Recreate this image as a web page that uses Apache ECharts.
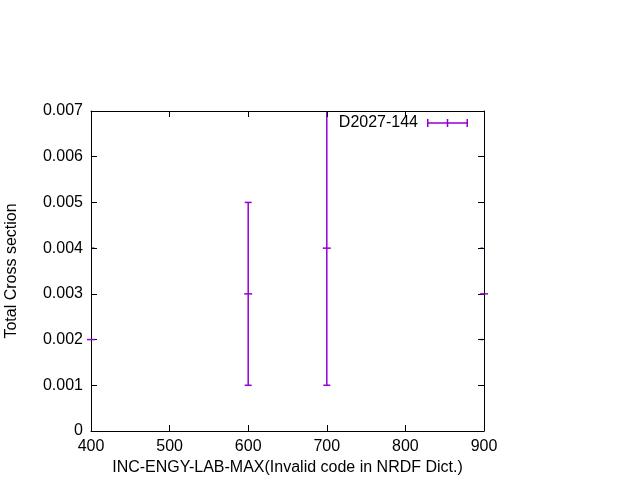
<!DOCTYPE html>
<html>
<head>
<meta charset="utf-8">
<script src="https://cdn.jsdelivr.net/npm/echarts@6/dist/echarts.min.js"></script>
<style>html,body{margin:0;padding:0;background:#fff}#c{width:640px;height:480px}</style>
</head>
<body>
<div id="c"></div>
<script>
// ---- data ----
const seriesName = 'D2027-144';
const xValues = [400, 600, 700, 900];
const yValues = [0.002, 0.003, 0.004, 0.003];
const yLow    = [0.000, 0.001, 0.001, 0.002];
const yHigh   = [0.004, 0.005, 0.0075, 0.004];
const xTicks = [400, 500, 600, 700, 800, 900];
const yTicks = [0, 0.001, 0.002, 0.003, 0.004, 0.005, 0.006, 0.007];
const xTitle = 'INC-ENGY-LAB-MAX(Invalid code in NRDF Dict.)';
const yTitle = 'Total Cross section';

const PURPLE = '#9400d3';
const FONT = 'Liberation Sans';
const data = xValues.map((x, i) => [x, yValues[i], yLow[i], yHigh[i]]);

const chart = echarts.init(document.getElementById('c'), null, {renderer: 'canvas'});

function baseAxis(type, ticks, extra) {
  return Object.assign({
    type: 'value',
    min: ticks[0],
    max: ticks[ticks.length - 1],
    interval: ticks[1] - ticks[0],
    z: 3,
    axisLine: {show: true, onZero: false, lineStyle: {color: '#000', width: 1}},
    axisTick: {show: true, inside: true, length: 6, lineStyle: {color: '#000', width: 1}},
    splitLine: {show: false},
    axisLabel: {show: true, color: '#000', fontFamily: FONT, fontSize: 16, margin: 8,
      formatter: v => String(Number(v.toFixed(3)))}
  }, extra || {});
}

const legendIcon = 'path://M0,3.3H41V4.7H0Z M0,0H1.5V8H0Z M19.75,0H21.25V8H19.75Z M39.5,0H41V8H39.5Z';

chart.setOption({
  animation: false,
  backgroundColor: '#fff',
  grid: {left: 91, right: 156, top: 111, bottom: 49, containLabel: false, outerBoundsMode: 'none'},
  xAxis: [
    baseAxis('x', xTicks, {position: 'bottom', name: xTitle, nameLocation: 'middle', nameGap: 25,
      nameTextStyle: {color: '#000', fontFamily: FONT, fontSize: 16}}),
    baseAxis('x', xTicks, {position: 'top', axisLabel: {show: false}})
  ],
  yAxis: [
    baseAxis('y', yTicks, {position: 'left', name: yTitle, nameLocation: 'middle', nameGap: 71, nameRotate: 90,
      nameTextStyle: {color: '#000', fontFamily: FONT, fontSize: 16}}),
    baseAxis('y', yTicks, {position: 'right', axisLabel: {show: false}})
  ],
  legend: {
    data: [{name: seriesName, icon: legendIcon}],
    right: 172, top: 115, padding: 0,
    align: 'right',
    itemWidth: 41, itemHeight: 8,
    textStyle: {color: '#000', fontFamily: FONT, fontSize: 16, padding: [0, 4, 0, 0]}
  },
  series: [
    {
      name: seriesName,
      type: 'custom',
      clip: false,
      z: 2,
      itemStyle: {color: PURPLE},
      data: data,
      encode: {x: 0, y: [1, 2, 3]},
      renderItem: function (params, api) {
        const x = api.value(0), lo = api.value(2), hi = api.value(3);
        const pLo = api.coord([x, lo]);
        const pHi = api.coord([x, hi]);
        const w = 3.5;
        const st = {stroke: PURPLE, lineWidth: 1.5};
        const cs = params.coordSys;
        return {
          type: 'group',
          clipPath: {type: 'rect', shape: {x: cs.x + 1, y: cs.y + 1, width: cs.width - 2, height: cs.height - 2}},
          children: [
            {type: 'line', shape: {x1: pLo[0], y1: pLo[1], x2: pHi[0], y2: pHi[1]}, style: st},
            {type: 'line', shape: {x1: pLo[0] - w, y1: pLo[1], x2: pLo[0] + w, y2: pLo[1]}, style: st},
            {type: 'line', shape: {x1: pHi[0] - w, y1: pHi[1], x2: pHi[0] + w, y2: pHi[1]}, style: st}
          ]
        };
      }
    },
    {
      name: seriesName + ' points',
      type: 'custom',
      clip: false,
      z: 5,
      itemStyle: {color: PURPLE},
      data: data,
      encode: {x: 0, y: 1},
      renderItem: function (params, api) {
        const p = api.coord([api.value(0), api.value(1)]);
        const w = 4;
        return {type: 'line', shape: {x1: p[0] - w, y1: p[1], x2: p[0] + w, y2: p[1]},
          style: {stroke: PURPLE, lineWidth: 1.5}};
      }
    }
  ]
});
</script>
</body>
</html>
